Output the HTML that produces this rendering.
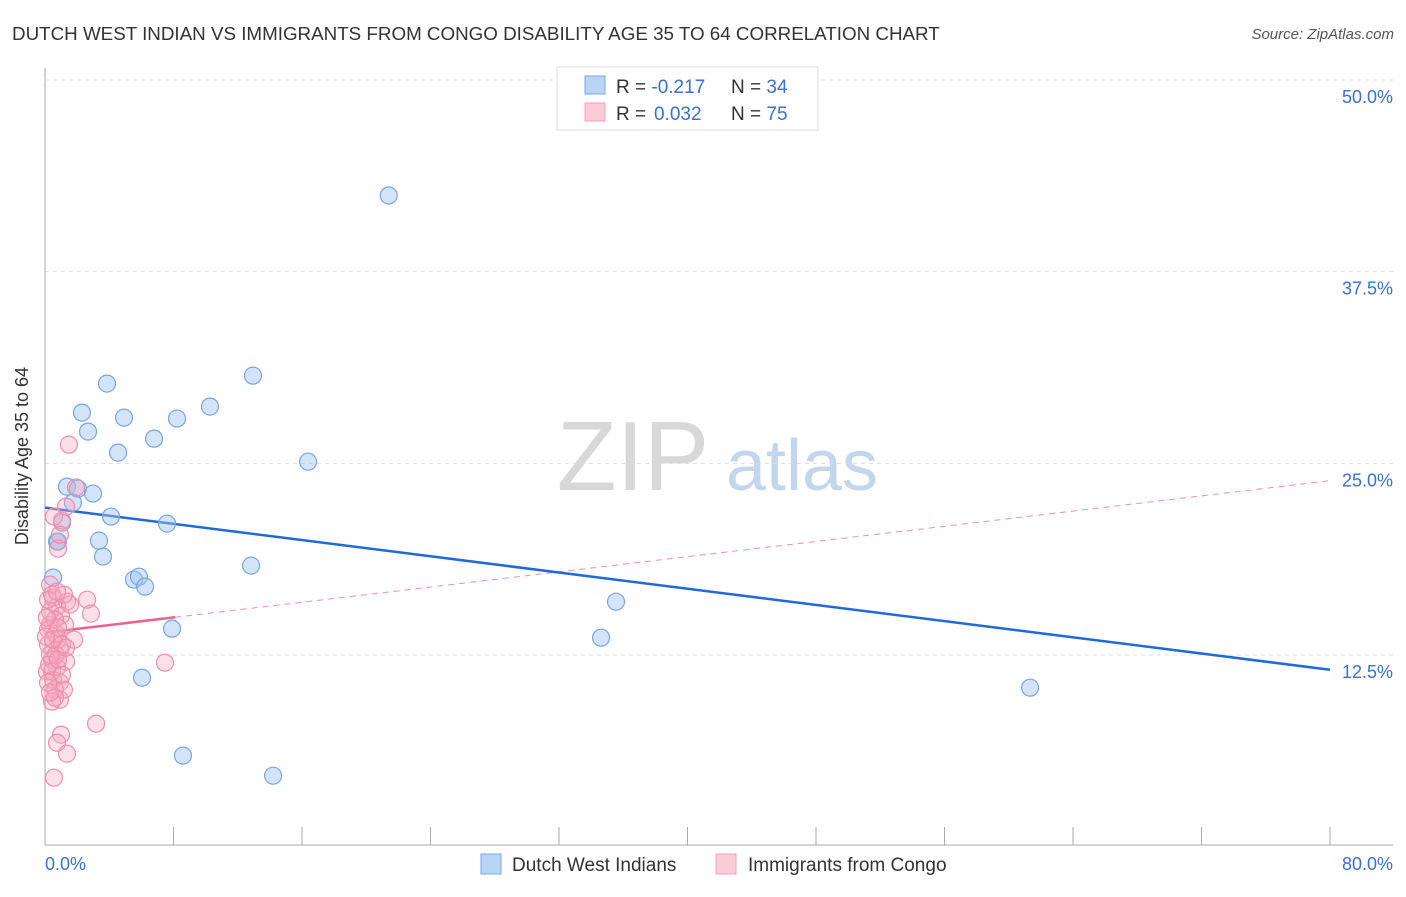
<!DOCTYPE html>
<html><head><meta charset="utf-8"><style>
body{margin:0;background:#fff;font-family:"Liberation Sans",sans-serif}
svg text{font-family:"Liberation Sans",sans-serif}
</style></head><body>
<svg id="c" width="1406" height="892">
<text x="12" y="40" font-size="18.8" fill="#333">DUTCH WEST INDIAN VS IMMIGRANTS FROM CONGO DISABILITY AGE 35 TO 64 CORRELATION CHART</text>
<text x="1394" y="39" font-size="15" fill="#555" text-anchor="end" font-style="italic">Source: ZipAtlas.com</text>
<text x="28" y="456" font-size="18" fill="#333" text-anchor="middle" transform="rotate(-90 28 456)">Disability Age 35 to 64</text>
<g><text x="633" y="490" font-size="98" fill="#d8d8d8" text-anchor="middle" font-family="Liberation Serif,serif">ZIP</text><text x="802" y="490" font-size="72" fill="#c4d6ee" text-anchor="middle">atlas</text></g>
<g id="grid"></g><g id="axes"></g><g id="trend"></g><g id="pts"></g>
<g>
<rect x="557" y="67" width="261" height="63" fill="#fff" stroke="#ddd"/>
<rect x="585" y="76" width="20" height="18" fill="#b8d4f6" stroke="#7aa8e4"/>
<rect x="585" y="103" width="20" height="18" fill="#fccbd8" stroke="#f2a0b8"/>
<text x="616" y="93" font-size="19" fill="#333">R = <tspan fill="#3a70d0">-0.217</tspan><tspan x="731">N = </tspan><tspan fill="#3a70d0">34</tspan></text>
<text x="616" y="120" font-size="19" fill="#333">R = <tspan x="654" fill="#3a70d0">0.032</tspan><tspan x="731">N = </tspan><tspan fill="#3a70d0">75</tspan></text>
</g>
<g>
<rect x="481" y="854" width="20" height="20" fill="#b8d4f6" stroke="#7aa8e4"/>
<text x="512" y="871" font-size="19" fill="#333">Dutch West Indians</text>
<rect x="716" y="854" width="20" height="20" fill="#fccbd8" stroke="#f2a0b8"/>
<text x="748" y="871" font-size="19" fill="#333">Immigrants from Congo</text>
</g>
</svg>
<script>
const yTicks=[12.5,25,37.5,50];
const yTickLabels=["12.5%","25.0%","37.5%","50.0%"];
const xTickVals=[0,8,16,24,32,40,48,56,64,72,80];
const blueX=[21.4,3.86,12.95,2.30,4.92,10.27,8.22,2.68,6.79,4.55,16.38,1.37,2.05,2.99,1.74,4.11,1.06,7.60,3.36,0.75,3.61,12.83,0.50,5.54,5.85,6.23,35.55,7.91,34.62,6.04,61.33,8.59,14.20,0.8];
const blueY=[42.47,30.20,30.72,28.31,27.98,28.70,27.92,27.07,26.61,25.70,25.11,23.48,23.35,23.03,22.44,21.53,21.14,21.07,19.96,19.90,18.92,18.33,17.55,17.42,17.61,16.96,15.98,14.22,13.63,11.02,10.37,5.94,4.63,19.9];
const pinkX=[1.49,1.06,1.93,0.81,0.93,1.31,0.56,0.31,0.50,1.37,2.62,2.86,0.75,1.00,0.31,1.25,0.68,1.81,0.19,0.93,0.44,1.31,0.75,0.12,0.50,0.93,0.62,0.93,0.44,7.47,3.18,1.00,0.75,1.37,0.56,0.31,0.19,0.62,0.81,0.31,1.06,0.68,1.18,0.19,1.56,0.44,1.18,0.25,0.50,0.81,0.06,0.12,0.44,1.06,0.62,0.75,0.19,0.31,0.81,1.31];
const pinkY=[26.22,21.27,23.42,19.44,20.35,22.18,21.53,17.09,16.24,15.98,16.11,15.20,15.66,15.07,14.48,14.48,13.89,13.50,13.18,12.85,12.20,12.07,11.68,11.42,10.89,10.70,10.24,9.59,9.46,12.00,8.02,7.31,6.78,6.07,4.50,15.33,14.16,14.81,13.50,12.52,13.18,12.52,10.24,16.11,15.79,16.44,16.44,11.87,13.50,14.29,13.70,14.94,11.42,11.22,9.72,16.63,10.70,10.05,12.20,12.98];
const blueTrend=[22.11,11.54];
const pinkTrend=[13.96,23.87];
const pinkSolidEnd=8.1;
const X=v=>45+v*(1330-45)/80, Y=v=>846.7-v*(846.7-80)/50;
const NS="http://www.w3.org/2000/svg";
function mk(p,t,a){const e=document.createElementNS(NS,t);for(const k in a)e.setAttribute(k,a[k]);p.appendChild(e);return e;}
const g=document.getElementById('grid'),ax=document.getElementById('axes'),tr=document.getElementById('trend'),pts=document.getElementById('pts');
yTicks.forEach((v,i)=>{
 const l=mk(g,'line',{x1:45,x2:1393,y1:Y(v),y2:Y(v),stroke:'#ddd','stroke-dasharray':'4,4'});
 
 
 const t=mk(g,'text',{x:1393,y:Y(v)+23,'font-size':18,fill:'#3a70d0','text-anchor':'end'});t.textContent=yTickLabels[i];
 
 
});
mk(ax,'line',{x1:45,x2:45,y1:68,y2:845,stroke:'#aaa'});
mk(ax,'line',{x1:45,x2:1393,y1:845,y2:845,stroke:'#aaa'});
xTickVals.forEach(v=>{const l=mk(ax,'line',{x1:X(v),x2:X(v),y1:827,y2:845,stroke:'#aaa'});
 
 });
let t0=mk(ax,'text',{x:45,y:870,'font-size':18,fill:'#3a70d0'});t0.textContent='0.0%';


let t1=mk(ax,'text',{x:1393,y:870,'font-size':18,fill:'#3a70d0','text-anchor':'end'});t1.textContent='80.0%';


blueX.forEach((x,i)=>{const c=mk(pts,'circle',{cx:X(x),cy:Y(blueY[i]),r:8.5,fill:'rgba(160,196,240,0.45)',stroke:'#79a6e2','stroke-width':1.2});
 
 });
pinkX.forEach((x,i)=>{const c=mk(pts,'circle',{cx:X(x),cy:Y(pinkY[i]),r:8.5,fill:'rgba(245,165,188,0.35)',stroke:'#ea8fae','stroke-width':1.2});
 
 });
const pAt=x=>pinkTrend[0]+(pinkTrend[1]-pinkTrend[0])*x/80;
let d=mk(tr,'line',{x1:X(pinkSolidEnd),y1:Y(pAt(pinkSolidEnd)),x2:X(80),y2:Y(pinkTrend[1]),stroke:'#ec8fae','stroke-width':1,'stroke-dasharray':'6,5'});


let s=mk(tr,'line',{x1:X(0),y1:Y(pinkTrend[0]),x2:X(pinkSolidEnd),y2:Y(pAt(pinkSolidEnd)),stroke:'#e8638e','stroke-width':2.5});


let b=mk(tr,'line',{x1:X(0),y1:Y(blueTrend[0]),x2:X(80),y2:Y(blueTrend[1]),stroke:'#1f6ad8','stroke-width':2.5});


</script>
</body></html>
